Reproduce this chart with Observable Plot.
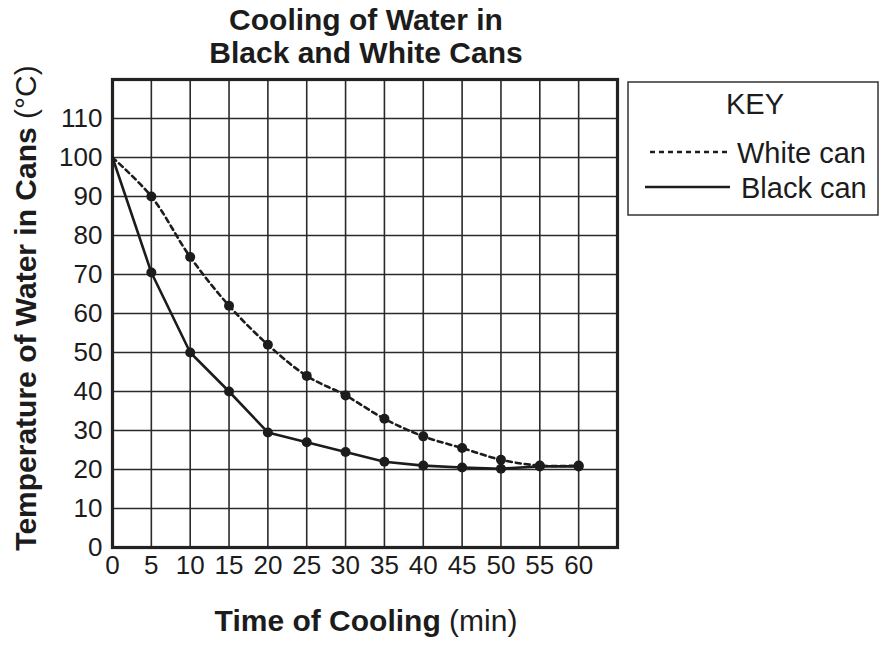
<!DOCTYPE html>
<html><head><meta charset="utf-8">
<script src="https://cdn.jsdelivr.net/npm/d3@7"></script>
<script src="https://cdn.jsdelivr.net/npm/@observablehq/plot@0.6"></script>
<style>
body{margin:0;background:#fff}
#chart svg{font-family:"Liberation Sans",Arial,Helvetica,sans-serif}
</style>
</head><body><div id="chart"></div>
<script>
const times = [0, 5, 10, 15, 20, 25, 30, 35, 40, 45, 50, 55, 60];
const whiteCan = [100, 90, 74.5, 62, 52, 44, 39, 33, 28.5, 25.5, 22.5, 21, 21];
const blackCan = [100, 70.5, 50, 40, 29.5, 27, 24.5, 22, 21, 20.5, 20.2, 20.8, 20.8];
const xTickLabels = [0, 5, 10, 15, 20, 25, 30, 35, 40, 45, 50, 55, 60];
const yTickLabels = [0, 10, 20, 30, 40, 50, 60, 70, 80, 90, 100, 110];
const xGrid = [0, 5, 10, 15, 20, 25, 30, 35, 40, 45, 50, 55, 60, 65];
const yGrid = [0, 10, 20, 30, 40, 50, 60, 70, 80, 90, 100, 110, 120];

const whiteData = times.map((t, i) => ({t, v: whiteCan[i]}));
const blackData = times.map((t, i) => ({t, v: blackCan[i]}));
const ink = "#1c1c1c";

const svg = Plot.plot({
  width: 882, height: 645,
  marginLeft: 112, marginRight: 265, marginTop: 79, marginBottom: 98,
  style: {fontFamily: "'Liberation Sans', Arial, sans-serif", fontSize: "26px", color: ink, background: "#fff"},
  x: {domain: [0, 65]},
  y: {domain: [0, 120]},
  marks: [
    Plot.ruleX(xGrid, {x: d => d, stroke: "#2a2a2a", strokeWidth: 1.6}),
    Plot.ruleY(yGrid, {y: d => d, stroke: "#2a2a2a", strokeWidth: 1.6}),
    Plot.frame({stroke: "#222", strokeWidth: 3.2}),
    Plot.axisX(xTickLabels, {tickSize: 0, tickPadding: 8, fontSize: 26, fill: ink, label: null}),
    Plot.axisY(yTickLabels, {tickSize: 0, tickPadding: 10, fontSize: 26, fill: ink, label: null}),
    Plot.line(blackData, {x: "t", y: "v", stroke: ink, strokeWidth: 2.6}),
    Plot.line(whiteData, {x: "t", y: "v", stroke: ink, strokeWidth: 2.6, strokeDasharray: "5,4", curve: "catmull-rom"}),
    Plot.dot(whiteData.filter(d => d.t > 0), {x: "t", y: "v", r: 5, fill: ink, stroke: "none"}),
    Plot.dot(blackData.filter(d => d.t > 0), {x: "t", y: "v", r: 5, fill: ink, stroke: "none"})
  ]
});

const s = d3.select(svg);
const font = "'Liberation Sans', Arial, sans-serif";
// Title
const title = s.append("text").attr("text-anchor", "middle").attr("font-family", font)
  .attr("font-weight", "bold").attr("font-size", 30).attr("fill", ink);
title.append("tspan").attr("x", 366).attr("y", 30).text("Cooling of Water in");
title.append("tspan").attr("x", 366).attr("y", 63).text("Black and White Cans");

// X axis title
const xt = s.append("text").attr("text-anchor", "middle").attr("x", 366).attr("y", 631)
  .attr("font-family", font).attr("font-size", 30).attr("fill", ink);
xt.append("tspan").attr("font-weight", "bold").text("Time of Cooling");
xt.append("tspan").text(" (min)");

// Y axis title
const yt = s.append("text").attr("text-anchor", "middle")
  .attr("transform", "translate(36,308) rotate(-90)")
  .attr("font-family", font).attr("font-size", 30).attr("fill", ink);
yt.append("tspan").attr("font-weight", "bold").text("Temperature of Water in Cans");
yt.append("tspan").text(" (°C)");

// Key
const key = s.append("g").attr("font-family", font).attr("font-size", 29).attr("fill", ink);
key.append("rect").attr("x", 628).attr("y", 82).attr("width", 250).attr("height", 133)
  .attr("fill", "none").attr("stroke", "#333").attr("stroke-width", 1.5);
key.append("text").attr("x", 755).attr("y", 114).attr("text-anchor", "middle").text("KEY");
key.append("line").attr("x1", 650).attr("x2", 731).attr("y1", 152).attr("y2", 152)
  .attr("stroke", ink).attr("stroke-width", 2.4).attr("stroke-dasharray", "5,4");
key.append("text").attr("x", 737).attr("y", 163).attr("text-anchor", "start").text("White can");
key.append("line").attr("x1", 645).attr("x2", 730).attr("y1", 187).attr("y2", 187)
  .attr("stroke", ink).attr("stroke-width", 2.6);
key.append("text").attr("x", 741).attr("y", 198).attr("text-anchor", "start").text("Black can");

document.getElementById("chart").appendChild(svg);
</script>
</body></html>
